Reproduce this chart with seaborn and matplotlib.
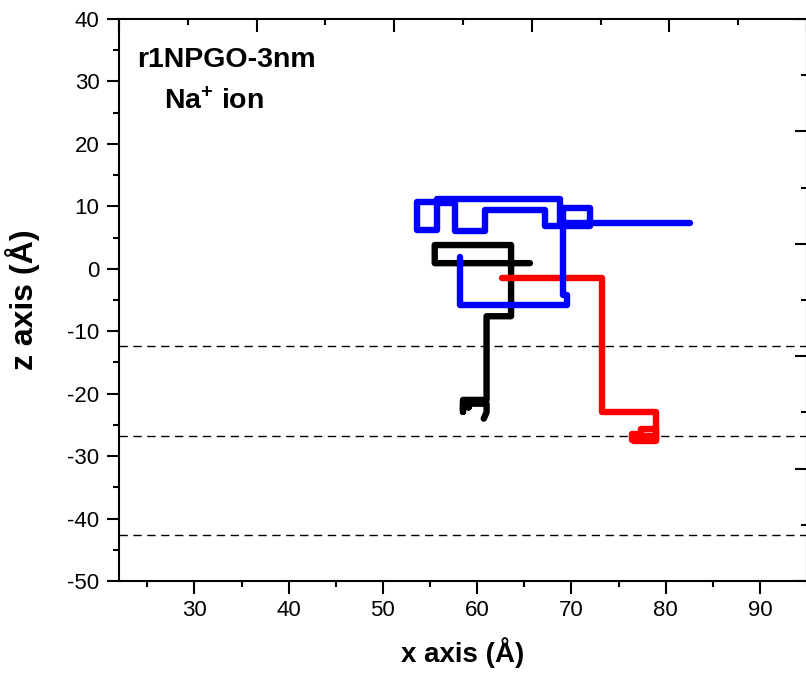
import pandas as pd
import matplotlib
matplotlib.use("Agg")
import matplotlib.pyplot as plt
import seaborn as sns

# trajectory of the Na+ ion, three runs (x, z in Angstrom)
black_x = [65.6, 55.5, 55.5, 63.6, 63.6, 61.0, 61.0, 58.5, 58.5, 58.5, 59.1, 59.1, 59.1, 61.0, 61.0, 60.7]
black_z = [0.9, 0.9, 3.8, 3.8, -7.6, -7.6, -21.0, -21.0, -22.9, -21.6, -21.6, -22.2, -21.6, -21.6, -23.0, -24.0]

red_x = [62.6, 73.3, 73.3, 79.0, 79.0, 76.4, 76.4, 77.4, 77.4, 79.0, 79.0, 76.6, 76.6, 78.5]
red_z = [-1.5, -1.5, -22.9, -22.9, -27.4, -27.4, -26.4, -26.4, -25.6, -25.6, -27.6, -27.6, -26.8, -26.8]

blue_x = [58.2, 58.2, 69.5, 69.5, 69.1, 69.1, 72.0, 72.0, 67.2, 67.2, 60.8, 60.8, 57.6, 57.6,
          55.7, 55.7, 53.6, 53.6, 55.7, 55.7, 68.8, 68.8, 82.6]
blue_z = [1.9, -5.8, -5.8, -4.2, -4.2, 9.7, 9.7, 6.9, 6.9, 9.4, 9.4, 6.0, 6.0, 10.6,
          10.6, 6.2, 6.2, 10.7, 10.7, 11.1, 11.1, 7.3, 7.3]

# layer boundaries (dashed)
layer_z = [-12.3, -26.8, -42.6]

x_ticks = [30, 40, 50, 60, 70, 80, 90]
z_ticks = [40, 30, 20, 10, 0, -10, -20, -30, -40, -50]

sns.set_style("ticks")
plt.rcParams["font.family"] = ["Liberation Sans", "DejaVu Sans"]
plt.rcParams["axes.unicode_minus"] = False
plt.rcParams["mathtext.fontset"] = "custom"
plt.rcParams["mathtext.rm"] = "Liberation Sans"
plt.rcParams["mathtext.bf"] = "Liberation Sans:bold"
plt.rcParams["mathtext.default"] = "bf"
for key in ["text.color", "axes.labelcolor", "xtick.color", "ytick.color", "axes.edgecolor"]:
    plt.rcParams[key] = "black"

frames = []
for name, xs, zs in [("run1", black_x, black_z), ("run2", red_x, red_z), ("run3", blue_x, blue_z)]:
    frames.append(pd.DataFrame({"x": xs, "z": zs, "run": name}))
df = pd.concat(frames, ignore_index=True)

fig = plt.figure(figsize=(8.06, 6.77), dpi=100)
pos = [119 / 806, 96 / 677, 688 / 806, 562 / 677]
ax = fig.add_axes(pos)

for z in layer_z:
    ax.axhline(z, color="black", lw=1.0, ls=(0, (6, 4)), zorder=1)

sns.lineplot(data=df, x="x", y="z", hue="run", sort=False, estimator=None,
             palette={"run1": "black", "run2": "#ff0000", "run3": "#0000ff"},
             hue_order=["run1", "run2", "run3"], lw=4.6, legend=False,
             solid_capstyle="round", solid_joinstyle="round", ax=ax, zorder=3)

ax.set_xlim(22, 95)
ax.set_ylim(-50, 40)
ax.set_xticks(x_ticks)
ax.set_xticks([25, 35, 45, 55, 65, 75, 85, 95], minor=True)
ax.set_yticks(z_ticks)
ax.set_yticks([35, 25, 15, 5, -5, -15, -25, -35, -45], minor=True)
ax.tick_params(which="both", direction="out", width=1.5, labelsize=16, pad=5)
ax.tick_params(which="major", length=9)
ax.tick_params(which="minor", length=4.5)
for sp in ax.spines.values():
    sp.set_linewidth(1.5)
    sp.set_visible(True)

ax.set_xlabel("x axis (Å)", fontsize=20, fontweight="bold", labelpad=11)
ax.set_ylabel("z axis (Å)", fontsize=23, fontweight="bold", labelpad=20)

ax.text(0.027, 0.95, "r1NPGO-3nm", transform=ax.transAxes, fontsize=20.5,
        fontweight="bold", va="top", ha="left")
ax.text(0.066, 0.877, "Na$^{+}$ ion", transform=ax.transAxes, fontsize=20.5,
        fontweight="bold", va="top", ha="left")

# inward ticks on the top and right of the frame
frame = fig.add_axes(pos, frameon=False)
frame.set_xlim(0, 1)
frame.set_ylim(0, 1)
frame.xaxis.tick_top()
frame.yaxis.tick_right()
frame.set_xticks([0, 0.2, 0.4, 0.6, 0.8, 1.0])
frame.set_xticks([0.1, 0.3, 0.5, 0.7, 0.9], minor=True)
frame.set_yticks([0, 0.2, 0.4, 0.6, 0.8, 1.0])
frame.set_yticks([0.1, 0.3, 0.5, 0.7, 0.9], minor=True)
frame.tick_params(which="both", direction="in", width=1.5, labeltop=False,
                  labelright=False, labelbottom=False, labelleft=False)
frame.tick_params(which="major", length=9)
frame.tick_params(which="minor", length=4.5)
frame.patch.set_visible(False)

fig.savefig("out.png", dpi=100)
